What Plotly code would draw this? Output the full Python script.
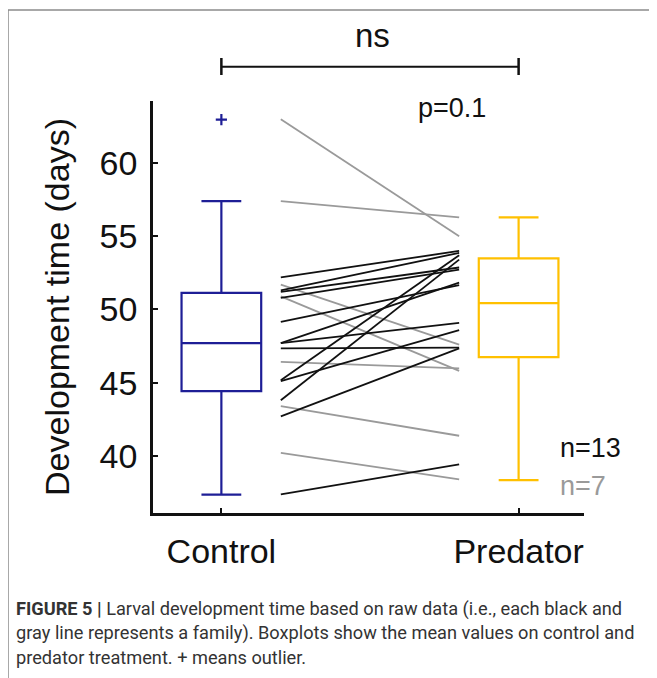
import plotly.graph_objects as go

# ---------------- data ----------------
categories = ["Control", "Predator"]
cat_pos = [1, 2]

# box statistics (days)
box_q1 = [44.42, 46.74]
box_median = [47.70, 50.43]
box_q3 = [51.13, 53.50]
box_low = [37.34, 38.34]
box_high = [57.40, 56.30]
outlier_control = [62.98]

# families: value in control (left end) -> value in predator (right end)
black_control = [52.2, 51.3, 51.2, 50.8, 49.15, 47.7, 47.7, 47.34, 45.17, 45.1, 43.8, 42.7, 37.36]
black_predator = [54.0, 53.87, 52.87, 52.73, 51.66, 51.84, 49.09, 47.4, 53.7, 48.59, 53.41, 47.34, 39.41]
gray_control = [63.0, 57.4, 51.7, 50.9, 46.42, 43.4, 40.2]
gray_predator = [55.0, 56.3, 47.6, 45.8, 45.97, 41.37, 38.39]

line_x = [1.2, 1.8]
yticks = [40, 45, 50, 55, 60]

# ---------------- layout geometry ----------------
OFF = 8  # page body margin
W, H = 657 - OFF, 678 - OFF
L, R, T, B = 153 - OFF, 584 - OFF, 101 - OFF, 513 - OFF  # plot area in figure pixels


def px_x(px):
    return (px - OFF - L) / (R - L)


def px_y(py):
    return (B - (py - OFF)) / (B - T)


NAVY = "#1e1e96"
GOLD = "#ffc000"
GRAY = "#9a9a9a"
FONT = "Liberation Sans, Arial, sans-serif"

fig = go.Figure()

for c, p in zip(gray_control, gray_predator):
    fig.add_trace(go.Scatter(x=line_x, y=[c, p], mode="lines",
                             line=dict(color=GRAY, width=1.8),
                             showlegend=False, hoverinfo="skip"))
for c, p in zip(black_control, black_predator):
    fig.add_trace(go.Scatter(x=line_x, y=[c, p], mode="lines",
                             line=dict(color="#111111", width=1.8),
                             showlegend=False, hoverinfo="skip"))

colors = [NAVY, GOLD]
for i in range(2):
    fig.add_trace(go.Box(
        x=[cat_pos[i]], q1=[box_q1[i]], median=[box_median[i]], q3=[box_q3[i]],
        lowerfence=[box_low[i]], upperfence=[box_high[i]],
        width=0.268, whiskerwidth=0.5,
        line=dict(color=colors[i], width=2.2),
        fillcolor="rgba(255,255,255,0)",
        boxpoints=False, showlegend=False, hoverinfo="skip"))

fig.add_trace(go.Scatter(x=[cat_pos[0]] * len(outlier_control), y=outlier_control,
                         mode="markers",
                         marker=dict(symbol="cross-thin", size=8,
                                     line=dict(color=NAVY, width=2.2)),
                         showlegend=False, hoverinfo="skip"))

# ns bracket
shapes = []
yb = px_y(66.7)
shapes.append(dict(type="line", xref="x", yref="paper", x0=1, x1=2, y0=yb, y1=yb,
                   line=dict(color="#111111", width=2)))
for xc in (1, 2):
    shapes.append(dict(type="line", xref="x", yref="paper", x0=xc, x1=xc,
                       y0=px_y(58), y1=px_y(75), line=dict(color="#111111", width=2.5)))
# figure frame
shapes.append(dict(type="rect", xref="paper", yref="paper",
                   x0=px_x(8), x1=px_x(650), y0=px_y(10), y1=px_y(700),
                   line=dict(color="#8c8c8c", width=1.5), fillcolor="rgba(0,0,0,0)"))

annotations = [
    dict(text="ns", xref="x", yref="paper", x=1.51, y=px_y(35), showarrow=False,
         font=dict(family=FONT, size=33, color="#111111"), xanchor="center", yanchor="middle"),
    dict(text="p=0.1", xref="paper", yref="paper", x=px_x(452), y=px_y(108), showarrow=False,
         font=dict(family=FONT, size=27, color="#111111"), xanchor="center", yanchor="middle"),
    dict(text="n=13", xref="paper", yref="paper", x=px_x(558), y=px_y(448), showarrow=False,
         font=dict(family=FONT, size=27, color="#111111"), xanchor="left", yanchor="middle"),
    dict(text="n=7", xref="paper", yref="paper", x=px_x(558), y=px_y(486), showarrow=False,
         font=dict(family=FONT, size=27, color=GRAY), xanchor="left", yanchor="middle"),
]

caption_lines = [
    "<b>FIGURE 5 |</b> Larval development time based on raw data (i.e., each black and",
    "gray line represents a family). Boxplots show the mean values on control and",
    "predator treatment. + means outlier.",
]
caption_y = [609, 633, 657]
for txt, cy in zip(caption_lines, caption_y):
    annotations.append(dict(text=txt, xref="paper", yref="paper", x=px_x(14), y=px_y(cy),
                            showarrow=False, xanchor="left", yanchor="middle",
                            font=dict(family="Roboto, Liberation Sans, sans-serif",
                                      size=18.2, color="#333333")))

fig.update_layout(
    width=W, height=H, autosize=False,
    margin=dict(l=L, r=W - R, t=T, b=H - B, pad=0),
    paper_bgcolor="white", plot_bgcolor="white",
    shapes=shapes, annotations=annotations,
    font=dict(family=FONT, color="#111111"),
    xaxis=dict(range=[0.77, 2.22], tickmode="array", tickvals=cat_pos, ticktext=categories,
               ticks="inside", ticklen=5, tickwidth=2, tickcolor="#111111",
               showline=True, linecolor="#111111", linewidth=2.5, mirror=False,
               showgrid=False, zeroline=False, ticklabelstandoff=6,
               tickfont=dict(family=FONT, size=34, color="#111111")),
    yaxis=dict(range=[36.09, 64.25], tickvals=yticks,
               ticks="inside", ticklen=5, tickwidth=2, tickcolor="#111111",
               showline=True, linecolor="#111111", linewidth=2.5, mirror=False,
               showgrid=False, zeroline=False, ticklabelstandoff=6,
               tickfont=dict(family=FONT, size=34, color="#111111"),
               title=dict(text="Development time (days)", standoff=20,
                          font=dict(family=FONT, size=34, color="#111111"))),
)

fig.write_html("out.html")
